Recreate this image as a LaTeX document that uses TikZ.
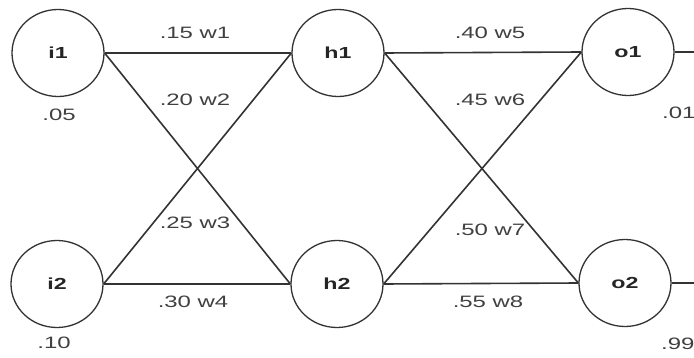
\documentclass[tikz,border=0pt]{standalone}
\usepackage{fontspec}
\setmainfont{Liberation Sans}[FakeStretch=1.45]
\usetikzlibrary{shapes.geometric}
\begin{document}
\begin{tikzpicture}[x=1pt,y=-1pt,
  neuron/.style={ellipse, draw=black!80, line width=1.3pt, minimum width=92pt,
    minimum height=87pt, inner sep=0pt, text=black!85,
    font=\fontsize{16}{18}\selectfont\bfseries},
  link/.style={draw=black!80, line width=1.6pt},
  wlabel/.style={inner sep=0pt, text=black!75, font=\fontsize{16.5}{18}\selectfont}]
  \fill[white] (0,0) rectangle (694,358);
  \useasboundingbox (0,0) rectangle (694,358);

  % neurons
  \node[neuron] (i1) at (58,53)  {i1};
  \node[neuron] (i2) at (57,284) {i2};
  \node[neuron] (h1) at (338,53) {h1};
  \node[neuron] (h2) at (337,284) {h2};
  \node[neuron] (o1) at (628,52) {o1};
  \node[neuron] (o2) at (625,283) {o2};

  % outputs leaving the picture
  \coordinate (out1) at (700,52);
  \coordinate (out2) at (700,283);

  % weights
  \draw[link] (i1.east) -- (h1.west);
  \draw[link] (i1.east) -- (h2.west);
  \draw[link] (i2.east) -- (h1.west);
  \draw[link] (i2.east) -- (h2.west);
  \draw[link] (h1.east) -- (o1.west);
  \draw[link] (h1.east) -- (o2.west);
  \draw[link] (h2.east) -- (o1.west);
  \draw[link] (h2.east) -- (o2.west);
  \draw[link] (o1.east) -- (out1);
  \draw[link] (o2.east) -- (out2);

  % weight labels
  \node[wlabel] (w1) at (195,33)  {.15 w1};
  \node[wlabel] (w2) at (195,100) {.20 w2};
  \node[wlabel] (w3) at (195,223) {.25 w3};
  \node[wlabel] (w4) at (193,302) {.30 w4};
  \node[wlabel] (w5) at (490,33)  {.40 w5};
  \node[wlabel] (w6) at (490,100) {.45 w6};
  \node[wlabel] (w7) at (490,230) {.50 w7};
  \node[wlabel] (w8) at (488,302) {.55 w8};

  % input and target values
  \node[wlabel] (v1) at (59,115)  {.05};
  \node[wlabel] (v2) at (54,343)  {.10};
  \node[wlabel, anchor=west] (t1) at (662,113) {.01};
  \node[wlabel, anchor=west] (t2) at (661,344) {.99};
\end{tikzpicture}
\end{document}
